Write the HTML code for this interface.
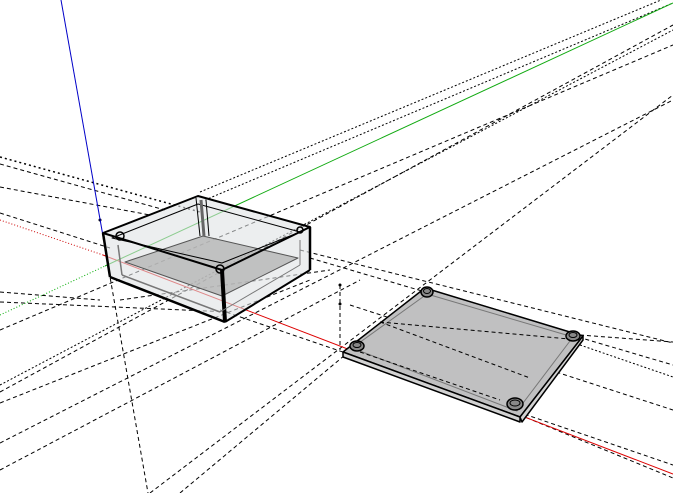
<!DOCTYPE html>
<html><head><style>
html,body{margin:0;padding:0;background:#fff;width:673px;height:493px;overflow:hidden}
</style></head><body>
<svg width="673" height="493" viewBox="0 0 673 493" xmlns="http://www.w3.org/2000/svg">
<rect width="673" height="493" fill="#fff"/>
<g fill="none" stroke="#000" stroke-width="1" stroke-dasharray="4,3">
<line x1="0" y1="157" x2="200" y2="212" stroke-width="1.5" stroke-dasharray="2,3"/>
<line x1="0" y1="164" x2="165" y2="210"/>
<line x1="0" y1="187" x2="150" y2="215"/>
<line x1="0" y1="213" x2="110" y2="248"/>
<line x1="200" y1="192" x2="673" y2="-5" stroke-dasharray="2,2"/>
<line x1="205" y1="200" x2="673" y2="3" stroke-dasharray="2,2"/>
<line x1="0" y1="392" x2="673" y2="25"/>
<line x1="0" y1="385" x2="673" y2="30" stroke-dasharray="2,2"/>
<line x1="0" y1="330" x2="673" y2="45"/>
<line x1="0" y1="443" x2="673" y2="100"/>
<line x1="150" y1="493" x2="673" y2="95"/>
<line x1="0" y1="302" x2="230" y2="312"/>
<line x1="0" y1="292" x2="100" y2="300"/>
<line x1="120" y1="300" x2="330" y2="270"/>
<line x1="300" y1="250" x2="673" y2="343"/>
<line x1="310" y1="258" x2="673" y2="365"/>
<line x1="220" y1="310" x2="673" y2="465"/>
<line x1="350" y1="305" x2="673" y2="410"/>
<line x1="390" y1="320" x2="580" y2="338"/>
<line x1="580" y1="335" x2="673" y2="342"/>
<line x1="580" y1="345" x2="673" y2="377" stroke-dasharray="2,2"/>
<line x1="520" y1="415" x2="673" y2="478"/>
<line x1="0" y1="403" x2="310" y2="280"/>
<line x1="0" y1="470" x2="360" y2="280"/>
<line x1="180" y1="493" x2="345" y2="355"/>
<line x1="103" y1="237" x2="148" y2="493"/>
<line x1="340" y1="285" x2="340" y2="350"/>
</g>
<circle cx="340" cy="285" r="1.5" fill="#000"/>
<circle cx="340" cy="304" r="1.5" fill="#000"/>
<circle cx="100" cy="220" r="1.5" fill="#000"/>
<line x1="61" y1="0" x2="103" y2="236" stroke="#0000c8" stroke-width="1"/>
<line x1="0" y1="220" x2="103" y2="255" stroke="#c00" stroke-width="1" stroke-dasharray="1,2"/>
<line x1="0" y1="315" x2="105" y2="266" stroke="#0a0" stroke-width="1" stroke-dasharray="1,2"/>
<line x1="103" y1="255" x2="673" y2="474" stroke="#d00" stroke-width="1"/>
<line x1="105" y1="266" x2="673" y2="3" stroke="#1a1" stroke-width="1"/>
<g stroke="#000" stroke-linejoin="round">
<polygon points="103,233 198,196 310,227 310,270 225,322 110,277" fill="#dfe2e4" fill-opacity="0.6" stroke="none"/>
<polygon points="125,262 203,236 298,258 222,296" fill="#b5b5b5" fill-opacity="0.8" stroke="#555" stroke-width="1"/>
<polygon points="103,233 198,196 310,227 222,270" fill="none" stroke-width="2"/>
<polygon points="112,238 198,204 300,232 222,263" fill="none" stroke-width="1"/>
<line x1="103" y1="233" x2="110" y2="277" stroke-width="2.5"/>
<line x1="110" y1="277" x2="225" y2="322" stroke-width="2.5"/>
<line x1="225" y1="322" x2="310" y2="270" stroke-width="2"/>
<line x1="310" y1="227" x2="310" y2="270" stroke-width="2.5"/>
<line x1="222" y1="270" x2="225" y2="322" stroke-width="4"/>
<line x1="196" y1="198" x2="200" y2="236" stroke-width="1"/>
<line x1="206" y1="200" x2="209" y2="236" stroke-width="1"/>
<line x1="201" y1="200" x2="204" y2="236" stroke="#666" stroke-width="3"/>
<line x1="118" y1="245" x2="122" y2="275" stroke="#777" stroke-width="1.5"/>
<line x1="122" y1="275" x2="220" y2="312" stroke="#777" stroke-width="1.5"/>
<line x1="220" y1="312" x2="300" y2="265" stroke="#777" stroke-width="1"/>
<line x1="300" y1="240" x2="300" y2="265" stroke="#777" stroke-width="1"/>
<circle cx="120" cy="236" r="4" fill="none" stroke-width="1.5"/>
<circle cx="220" cy="269" r="4" fill="none" stroke-width="1.5"/>
<circle cx="300" cy="230" r="3" fill="none" stroke-width="1.5"/>
</g>
<g stroke="#000" stroke-linejoin="round">
<polygon points="343,352 425,288 583,336 520,420 343,357" fill="#a9a9a9"/>
<polygon points="343,352 425,288 583,336 520,417" fill="#c0c0c1" stroke-width="1.5"/>
<polygon points="343,352 520,417 520,422 343,357" fill="#d2d2d2" stroke-width="1.5"/>
<polygon points="520,417 583,336 583,340 522,422" fill="#d2d2d2" stroke-width="1.5"/>
<polygon points="352,348 427,294 573,337 517,411" fill="none" stroke="#777" stroke-width="1"/>
<g fill="none" stroke="#000" stroke-dasharray="4,3" stroke-width="1">
<line x1="380" y1="322" x2="580" y2="340"/>
<line x1="380" y1="322" x2="530" y2="378"/>
<line x1="360" y1="352" x2="500" y2="400"/>
</g>
<g fill="#888" stroke-width="1.5">
<ellipse cx="357" cy="346" rx="7" ry="5"/>
<ellipse cx="427" cy="292" rx="6" ry="5"/>
<ellipse cx="573" cy="336" rx="7" ry="5"/>
<ellipse cx="515" cy="404" rx="8" ry="6"/>
</g>
<g fill="none" stroke-width="1">
<ellipse cx="357" cy="345" rx="4" ry="2.5"/>
<ellipse cx="427" cy="291" rx="3.5" ry="2.5"/>
<ellipse cx="573" cy="335" rx="4" ry="2.5"/>
<ellipse cx="515" cy="403" rx="5" ry="3"/>
</g>
</g>
</svg>
</body></html>
